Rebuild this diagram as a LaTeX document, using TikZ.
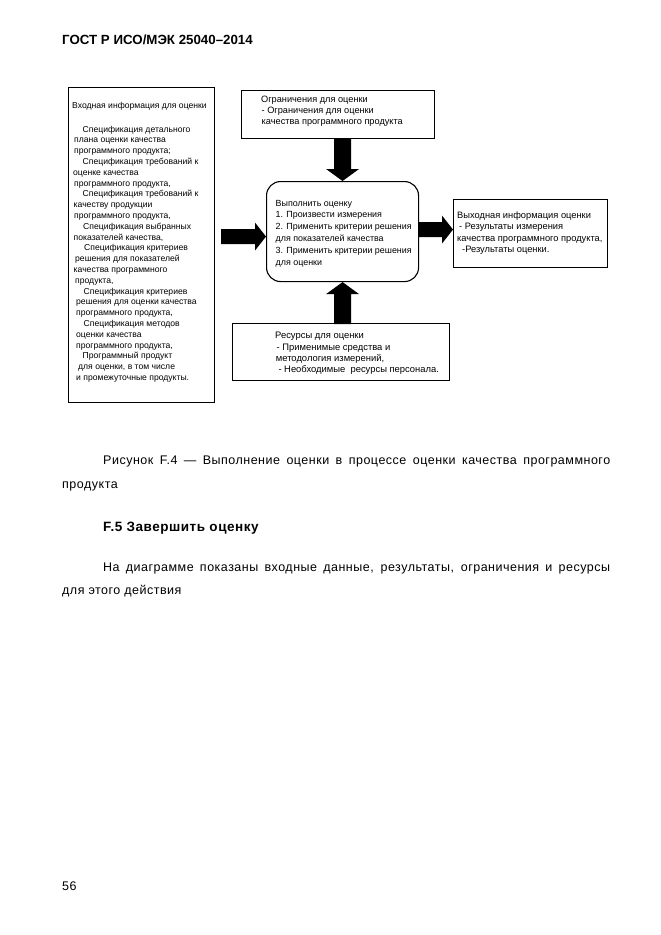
\documentclass[tikz,border=0pt]{standalone}
\usepackage{fontspec}
\usetikzlibrary{calc}
\setmainfont{Liberation Sans}
\newfontfamily\bodyfont[LetterSpace=4]{Liberation Sans}
\newcommand\dfont{\fontsize{8.6}{10.8}\selectfont}
\newcommand\bfnt{\bodyfont\fontsize{12.5}{24}\selectfont}
\begin{document}
\begin{tikzpicture}[x=1pt,y=-1pt,
  box/.style={draw=black, line width=1.1pt, inner sep=0pt, anchor=north west},
  txt/.style={anchor=base west, inner sep=0pt},
  blk/.style={fill=black}]
\useasboundingbox[fill=white] (0,0) rectangle (661,935);

% boxes
\node[box, minimum width=146pt, minimum height=315pt] (inp) at (68,87) {};
\node[box, minimum width=193pt, minimum height=48pt] (lim) at (241,90) {};
\node[box, rounded corners=14pt, minimum width=152pt, minimum height=100pt] (proc) at (266,181) {};
\node[box, minimum width=154pt, minimum height=68pt] (out) at (453,199) {};
\node[box, minimum width=217pt, minimum height=57pt] (res) at (232,323) {};

% texts in boxes
\node[txt] (inpT) at (72,108) {\parbox[t]{145pt}{\dfont\raggedright
Входная информация для оценки\\[13.2pt]
\hspace*{10.5pt}Спецификация детального\\
\hspace*{2pt}плана оценки качества\\
\hspace*{2pt}программного продукта;\\
\hspace*{10.5pt}Спецификация требований к\\
\hspace*{1pt}оценке качества\\
\hspace*{2pt}программного продукта,\\
\hspace*{10.5pt}Спецификация требований к\\
\hspace*{1.5pt}качеству продукции\\
\hspace*{2pt}программного продукта,\\
\hspace*{11pt}Спецификация выбранных\\
\hspace*{1.5pt}показателей качества,\\
\hspace*{12pt}Спецификация критериев\\
\hspace*{3pt}решения для показателей\\
\hspace*{1.5pt}качества программного\\
\hspace*{3pt}продукта,\\
\hspace*{11.5pt}Спецификация критериев\\
\hspace*{4pt}решения для оценки качества\\
\hspace*{4pt}программного продукта,\\
\hspace*{11.5pt}Спецификация методов\\
\hspace*{4pt}оценки качества\\
\hspace*{4pt}программного продукта,\\
\hspace*{10.5pt}Программный продукт\\
\hspace*{6pt}для оценки, в том числе\\
\hspace*{4pt}и промежуточные продукты.}};

\node[txt] (limT) at (261,102) {\parbox[t]{170pt}{\fontsize{9.2}{11}\selectfont\raggedright
Ограничения для оценки\\
\hspace*{0.5pt}- Ограничения для оценки\\
\hspace*{0.5pt}качества программного продукта}};

\node[txt] (procT) at (275.5,206) {\parbox[t]{145pt}{\fontsize{8.9}{11.9}\selectfont\raggedright
Выполнить оценку\\
1. Произвести измерения\\
2. Применить критерии решения\\
для показателей качества\\
3. Применить критерии решения\\
для оценки}};

\node[txt] (outT) at (457,218) {\parbox[t]{150pt}{\fontsize{9.3}{11.5}\selectfont\raggedright
Выходная информация оценки\\
\hspace*{2pt}- Результаты измерения\\
качества программного продукта,\\
\hspace*{5pt}-Результаты оценки.}};

\node[txt] (resT) at (275,338) {\parbox[t]{172pt}{\fontsize{9.4}{11.3}\selectfont\raggedright
Ресурсы для оценки\\[0.7pt]
\hspace*{1.5pt}- Применимые средства и\\
\hspace*{0.7pt}методология измерений,\\
\hspace*{3.3pt}- Необходимые\ \ ресурсы персонала.}};

% block arrows
\fill[blk] (proc.north) -- ++(16.5,-12) -- ++(-8,0) -- ++(0,-31) -- ++(-17,0)
  -- ++(0,31) -- ++(-8,0) -- cycle;
\fill[blk] (proc.south) -- ++(16.5,12) -- ++(-8,0) -- ++(0,30) -- ++(-17,0)
  -- ++(0,-30) -- ++(-8,0) -- cycle;
\coordinate (ltip) at ($(proc.west)+(0,5)$);
\coordinate (rtip) at ($(out.west)+(0,-4)$);
\fill[blk] (ltip) -- ++(-11,-14) -- ++(0,6.5) -- ++(-34,0) -- ++(0,15)
  -- ++(34,0) -- ++(0,6.5) -- cycle;
\fill[blk] (rtip) -- ++(-11,-14) -- ++(0,6.5) -- ++(-24,0) -- ++(0,15)
  -- ++(24,0) -- ++(0,6.5) -- cycle;

% page text
\node[txt] (hdr) at (62,44) {\fontsize{13.3}{15}\selectfont\bfseries ГОСТ Р ИСО/МЭК 25040–2014};
\node[txt] (cap1) at (103,464) {\bfnt\makebox[507pt][s]{Рисунок F.4 — Выполнение оценки в процессе оценки качества программного}};
\node[txt] (cap2) at (62,488) {\bfnt продукта};
\node[txt] (sec) at (103,531) {\bodyfont\fontsize{13.5}{24}\selectfont\bfseries F.5 Завершить оценку};
\node[txt] (par1) at (103,571) {\bfnt\makebox[507pt][s]{На диаграмме показаны входные данные, результаты, ограничения и ресурсы}};
\node[txt] (par2) at (62,594) {\bfnt для этого действия};
\node[txt] (pg) at (62,890) {\bfnt 56};
\end{tikzpicture}
\end{document}
